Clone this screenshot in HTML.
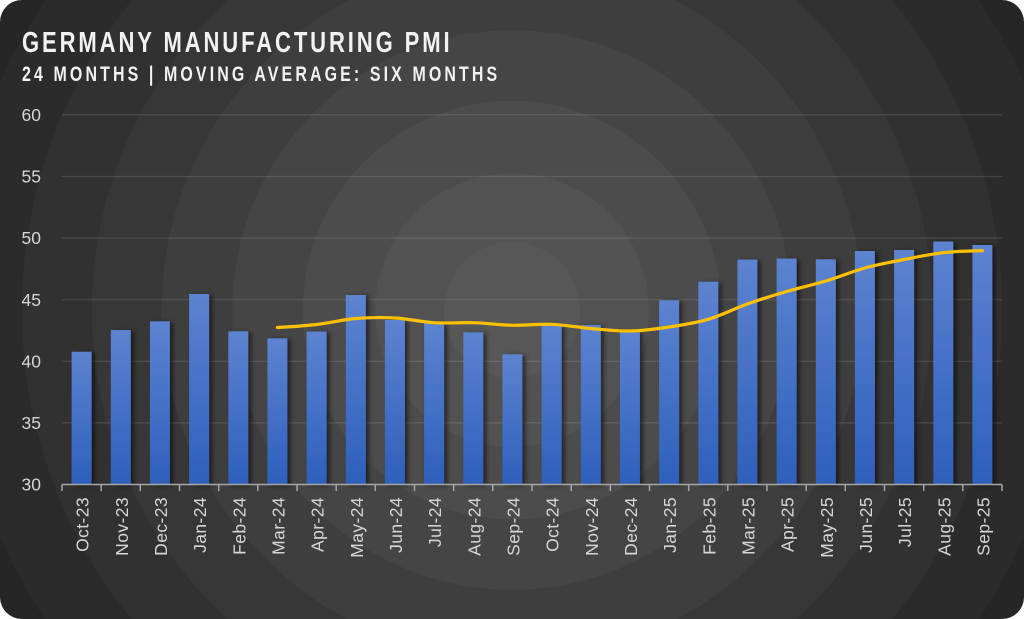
<!DOCTYPE html>
<html>
<head>
<meta charset="utf-8">
<style>
html,body{margin:0;padding:0;background:#ffffff;}
svg{display:block;}
</style>
</head>
<body>
<svg width="1024" height="619" viewBox="0 0 1024 619" xmlns="http://www.w3.org/2000/svg">
<defs>
<radialGradient id="bg" gradientUnits="userSpaceOnUse" cx="512" cy="310" r="630">
<stop offset="0" stop-color="#575757"/>
<stop offset="0.108" stop-color="#575757"/>
<stop offset="0.108" stop-color="#525252"/>
<stop offset="0.217" stop-color="#525252"/>
<stop offset="0.217" stop-color="#4c4c4c"/>
<stop offset="0.332" stop-color="#4c4c4c"/>
<stop offset="0.332" stop-color="#454545"/>
<stop offset="0.444" stop-color="#454545"/>
<stop offset="0.444" stop-color="#3e3e3e"/>
<stop offset="0.556" stop-color="#3e3e3e"/>
<stop offset="0.556" stop-color="#373737"/>
<stop offset="0.667" stop-color="#373737"/>
<stop offset="0.667" stop-color="#313131"/>
<stop offset="0.778" stop-color="#313131"/>
<stop offset="0.778" stop-color="#2b2b2b"/>
<stop offset="0.889" stop-color="#2b2b2b"/>
<stop offset="0.889" stop-color="#262626"/>
<stop offset="1" stop-color="#262626"/>
</radialGradient>
<linearGradient id="bar" x1="0" y1="0" x2="0" y2="1">
<stop offset="0" stop-color="#5c83d0"/>
<stop offset="1" stop-color="#2e5fbc"/>
</linearGradient>
<filter id="sh" x="-50%" y="-10%" width="200%" height="120%">
<feDropShadow dx="3" dy="1" stdDeviation="2.5" flood-color="#000" flood-opacity="0.55"/>
</filter>
</defs>

<rect x="0" y="0" width="1024" height="619" rx="22" ry="22" fill="url(#bg)"/>

<!-- titles -->
<text transform="translate(22,52) scale(0.76,1)" x="0" y="0" font-family="Liberation Sans, sans-serif" font-weight="bold" font-size="29" fill="#f2f2f2" letter-spacing="3.8">GERMANY MANUFACTURING PMI</text>
<text transform="translate(22,81) scale(0.76,1)" x="0" y="0" font-family="Liberation Sans, sans-serif" font-weight="bold" font-size="21" fill="#f2f2f2" letter-spacing="4.1">24 MONTHS | MOVING AVERAGE: SIX MONTHS</text>

<!-- gridlines -->
<g stroke="#ffffff" stroke-opacity="0.12" stroke-width="1.2">
<line x1="62" y1="114.9" x2="1002" y2="114.9"/>
<line x1="62" y1="176.5" x2="1002" y2="176.5"/>
<line x1="62" y1="238.1" x2="1002" y2="238.1"/>
<line x1="62" y1="299.7" x2="1002" y2="299.7"/>
<line x1="62" y1="361.3" x2="1002" y2="361.3"/>
<line x1="62" y1="422.9" x2="1002" y2="422.9"/>
</g>

<!-- y labels -->
<g font-family="Liberation Sans, sans-serif" font-size="17.5" fill="#d6d6d6" text-anchor="end">
<text x="41" y="121">60</text>
<text x="41" y="182.6">55</text>
<text x="41" y="244.2">50</text>
<text x="41" y="305.8">45</text>
<text x="41" y="367.4">40</text>
<text x="41" y="429">35</text>
<text x="41" y="490.6">30</text>
</g>

<!-- bars -->
<g fill="url(#bar)" filter="url(#sh)">
<rect x="71.6" y="351.7" width="20" height="132.8"/>
<rect x="110.8" y="330" width="20" height="154.5"/>
<rect x="149.9" y="321.3" width="20" height="163.2"/>
<rect x="189.1" y="294" width="20" height="190.5"/>
<rect x="228.3" y="331.3" width="20" height="153.2"/>
<rect x="267.4" y="338.3" width="20" height="146.2"/>
<rect x="306.6" y="331.5" width="20" height="153"/>
<rect x="345.8" y="295" width="20" height="189.5"/>
<rect x="384.9" y="320" width="20" height="164.5"/>
<rect x="424.1" y="323" width="20" height="161.5"/>
<rect x="463.3" y="332.3" width="20" height="152.2"/>
<rect x="502.4" y="354.3" width="20" height="130.2"/>
<rect x="541.6" y="325" width="20" height="159.5"/>
<rect x="580.8" y="325" width="20" height="159.5"/>
<rect x="619.9" y="331.5" width="20" height="153"/>
<rect x="659.1" y="300.3" width="20" height="184.2"/>
<rect x="698.3" y="281.7" width="20" height="202.8"/>
<rect x="737.4" y="259.5" width="20" height="225"/>
<rect x="776.6" y="258.5" width="20" height="226"/>
<rect x="815.8" y="259.3" width="20" height="225.2"/>
<rect x="854.9" y="251" width="20" height="233.5"/>
<rect x="894.1" y="250" width="20" height="234.5"/>
<rect x="933.3" y="241.5" width="20" height="243"/>
<rect x="972.4" y="245" width="20" height="239.5"/>
</g>

<!-- moving average line -->
<path fill="none" stroke="#ffc000" stroke-width="3.2" stroke-linecap="round" stroke-linejoin="round"
d="M277.4,327.5
C290.5,327.0 303.5,326.0 316.6,324.5
C329.7,323.0 342.7,319.6 355.8,318.5
C368.9,317.4 381.8,317.3 394.9,318
C408.0,318.7 421.0,321.9 434.1,322.7
C447.2,323.5 460.2,322.3 473.3,322.7
C486.4,323.1 499.3,325.0 512.4,325.3
C525.5,325.6 538.5,323.8 551.6,324.3
C564.7,324.8 577.7,327.4 590.8,328.5
C603.9,329.6 616.8,331.3 629.9,331
C643.0,330.8 656.0,329.0 669.1,327
C682.2,325.0 695.2,323.1 708.3,319.3
C721.4,315.5 734.3,308.6 747.4,304
C760.5,299.4 773.5,295.3 786.6,291.5
C799.7,287.7 812.7,284.9 825.8,281
C838.9,277.1 851.8,271.6 864.9,268
C878.0,264.4 891.0,262.1 904.1,259.5
C917.2,256.9 930.2,254.2 943.3,252.7
C956.4,251.2 969.3,251.0 982.4,250.7"/>

<!-- x axis -->
<g stroke="#a6a6a6" stroke-width="1.5">
<line x1="62" y1="484.5" x2="1002" y2="484.5"/>
<line x1="62" y1="484.5" x2="62" y2="491"/>
<line x1="101.2" y1="484.5" x2="101.2" y2="491"/>
<line x1="140.3" y1="484.5" x2="140.3" y2="491"/>
<line x1="179.5" y1="484.5" x2="179.5" y2="491"/>
<line x1="218.7" y1="484.5" x2="218.7" y2="491"/>
<line x1="257.8" y1="484.5" x2="257.8" y2="491"/>
<line x1="297" y1="484.5" x2="297" y2="491"/>
<line x1="336.2" y1="484.5" x2="336.2" y2="491"/>
<line x1="375.3" y1="484.5" x2="375.3" y2="491"/>
<line x1="414.5" y1="484.5" x2="414.5" y2="491"/>
<line x1="453.7" y1="484.5" x2="453.7" y2="491"/>
<line x1="492.8" y1="484.5" x2="492.8" y2="491"/>
<line x1="532" y1="484.5" x2="532" y2="491"/>
<line x1="571.2" y1="484.5" x2="571.2" y2="491"/>
<line x1="610.3" y1="484.5" x2="610.3" y2="491"/>
<line x1="649.5" y1="484.5" x2="649.5" y2="491"/>
<line x1="688.7" y1="484.5" x2="688.7" y2="491"/>
<line x1="727.8" y1="484.5" x2="727.8" y2="491"/>
<line x1="767" y1="484.5" x2="767" y2="491"/>
<line x1="806.2" y1="484.5" x2="806.2" y2="491"/>
<line x1="845.3" y1="484.5" x2="845.3" y2="491"/>
<line x1="884.5" y1="484.5" x2="884.5" y2="491"/>
<line x1="923.7" y1="484.5" x2="923.7" y2="491"/>
<line x1="962.8" y1="484.5" x2="962.8" y2="491"/>
<line x1="1002" y1="484.5" x2="1002" y2="491"/>
</g>

<!-- x labels -->
<g font-family="Liberation Sans, sans-serif" font-size="17.5" fill="#d6d6d6" text-anchor="end" letter-spacing="0.4">
<text transform="translate(88.6,497) rotate(-90)">Oct-23</text>
<text transform="translate(127.8,497) rotate(-90)">Nov-23</text>
<text transform="translate(166.9,497) rotate(-90)">Dec-23</text>
<text transform="translate(206.1,497) rotate(-90)">Jan-24</text>
<text transform="translate(245.3,497) rotate(-90)">Feb-24</text>
<text transform="translate(284.4,497) rotate(-90)">Mar-24</text>
<text transform="translate(323.6,497) rotate(-90)">Apr-24</text>
<text transform="translate(362.8,497) rotate(-90)">May-24</text>
<text transform="translate(401.9,497) rotate(-90)">Jun-24</text>
<text transform="translate(441.1,497) rotate(-90)">Jul-24</text>
<text transform="translate(480.3,497) rotate(-90)">Aug-24</text>
<text transform="translate(519.4,497) rotate(-90)">Sep-24</text>
<text transform="translate(558.6,497) rotate(-90)">Oct-24</text>
<text transform="translate(597.8,497) rotate(-90)">Nov-24</text>
<text transform="translate(636.9,497) rotate(-90)">Dec-24</text>
<text transform="translate(676.1,497) rotate(-90)">Jan-25</text>
<text transform="translate(715.3,497) rotate(-90)">Feb-25</text>
<text transform="translate(754.4,497) rotate(-90)">Mar-25</text>
<text transform="translate(793.6,497) rotate(-90)">Apr-25</text>
<text transform="translate(832.8,497) rotate(-90)">May-25</text>
<text transform="translate(871.9,497) rotate(-90)">Jun-25</text>
<text transform="translate(911.1,497) rotate(-90)">Jul-25</text>
<text transform="translate(950.3,497) rotate(-90)">Aug-25</text>
<text transform="translate(989.4,497) rotate(-90)">Sep-25</text>
</g>
</svg>
</body>
</html>
